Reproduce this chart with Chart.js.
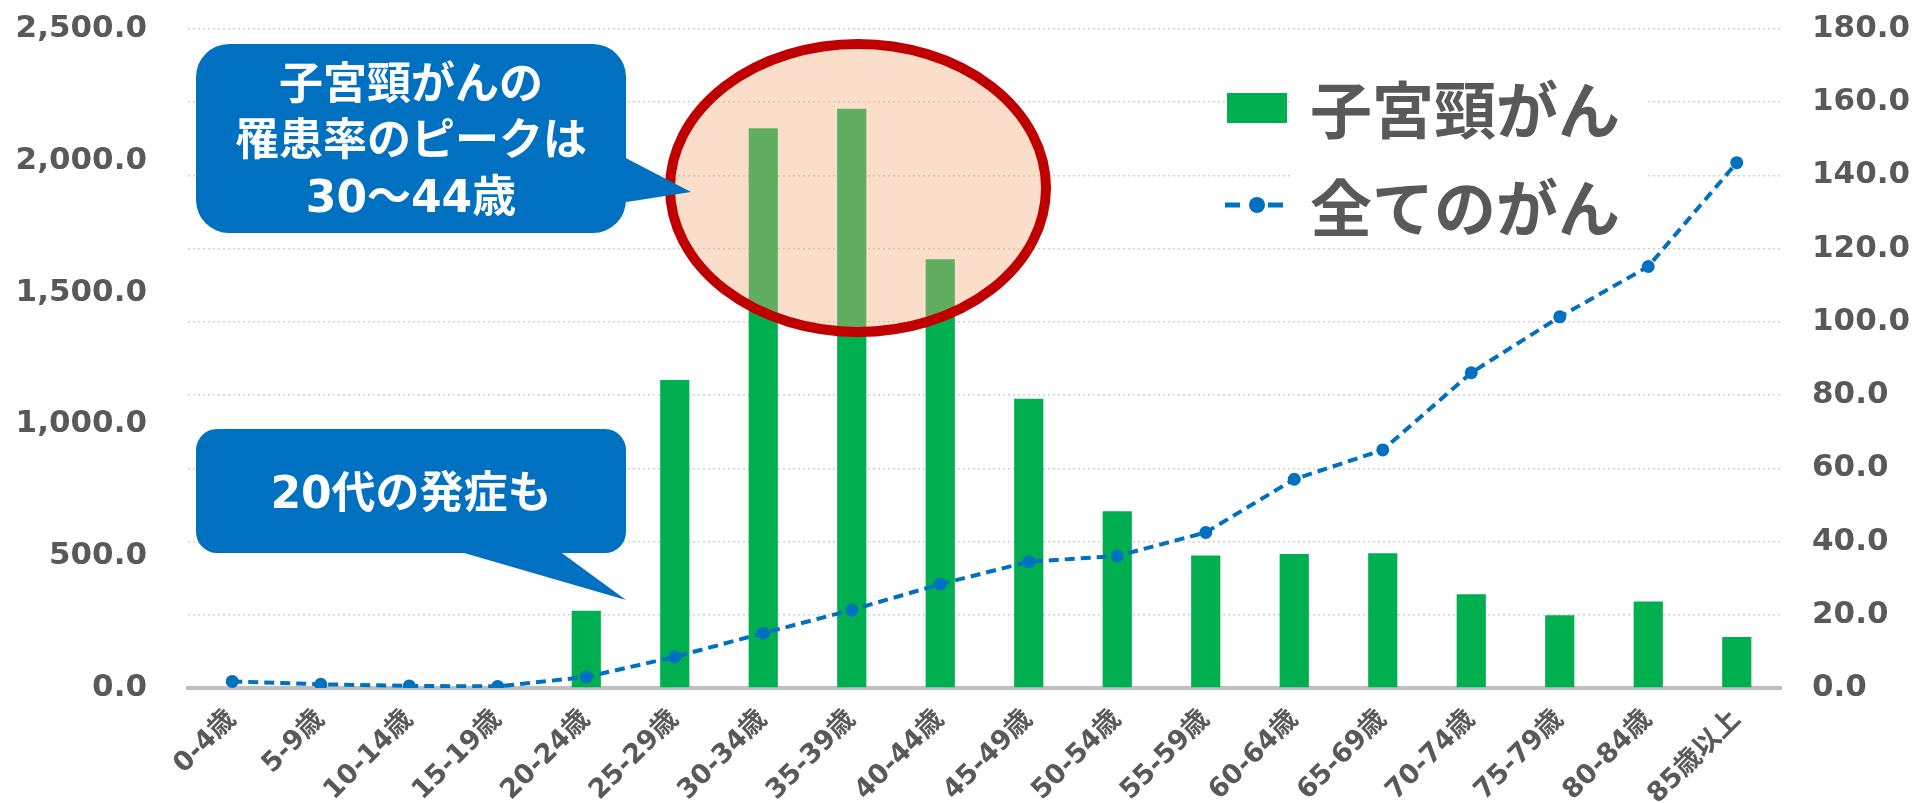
<!DOCTYPE html>
<html>
<head>
<meta charset="utf-8">
<script src="https://cdn.jsdelivr.net/npm/chart.js@4/dist/chart.umd.min.js"></script>
<style>
html,body{margin:0;padding:0;background:#fff;overflow:hidden}
#wrap{position:relative;width:1917px;height:803px}
</style>
</head>
<body>
<div id="wrap"><canvas id="c" width="1917" height="803"></canvas></div>
<script>
// ---- data ----
const categories = ['0-4歳','5-9歳','10-14歳','15-19歳','20-24歳','25-29歳','30-34歳','35-39歳','40-44歳','45-49歳','50-54歳','55-59歳','60-64歳','65-69歳','70-74歳','75-79歳','80-84歳','85歳以上'];
const cervicalRates = [0,0,0,0,21.1,84.1,152.9,158.2,117.1,79.0,48.3,36.2,36.6,36.8,25.6,19.9,23.6,13.9];
const allCancerRates = [25,14,8,6,42,118,208,296,394,479,501,590,792,903,1196,1408,1599,1993];
const leftTicks = [0,500,1000,1500,2000,2500];
const rightTicks = [0,20,40,60,80,100,120,140,160,180];
const seriesNames = ['子宮頸がん','全てのがん'];
const callout1Lines = ['子宮頸がんの','罹患率のピークは','30〜44歳'];
const callout2Lines = ['20代の発症も'];

const GRAY = '#595959';
const GREEN = '#00B050';
const BLUE = '#0070C0';
const NUMFONT = "'DejaVu Sans', 'Noto Sans CJK JP', sans-serif";
const JPFONT = "'DejaVu Sans', 'Noto Sans CJK JP', sans-serif";
const fmt = v => v.toLocaleString('en-US',{minimumFractionDigits:1,maximumFractionDigits:1});

const annotPlugin = {
  id:'annot',
  afterDraw(chart){
    const c = chart.ctx;
    c.save();
    // ellipse highlight
    c.beginPath();
    c.ellipse(858,188,188,144,0,0,Math.PI*2);
    c.fillStyle='rgba(242,172,122,0.40)';
    c.fill();
    c.lineWidth=10;
    c.strokeStyle='#C00000';
    c.stroke();

    // callout 1
    c.fillStyle=BLUE;
    c.beginPath(); c.roundRect(196,44,430,189,33); c.fill();
    c.beginPath(); c.moveTo(620,155); c.lineTo(691,192); c.lineTo(620,203); c.closePath(); c.fill();
    // callout 2
    c.beginPath(); c.roundRect(196,429,430,124,21); c.fill();
    c.beginPath(); c.moveTo(447,548); c.lineTo(626,600); c.lineTo(555,548); c.closePath(); c.fill();

    c.fillStyle='#fff';
    c.textAlign='center'; c.textBaseline='middle';
    c.font="bold 44px "+JPFONT;
    const ys=[88,144,201];
    callout1Lines.forEach((t,i)=>c.fillText(t,411,ys[i]));
    c.fillText(callout2Lines[0],411,497);

    // legend
    c.fillStyle='#fff';
    c.fillRect(1292,62,355,185);
    c.fillStyle=GREEN;
    c.fillRect(1227,93,60,30);
    c.strokeStyle=BLUE; c.lineWidth=5; c.setLineDash([]);
    c.beginPath(); c.moveTo(1225,205); c.lineTo(1240,205); c.moveTo(1268,205); c.lineTo(1283,205); c.stroke();
    c.fillStyle=BLUE;
    c.beginPath(); c.arc(1257,205,8,0,Math.PI*2); c.fill();
    c.fillStyle=GRAY;
    c.textAlign='left';
    c.font="bold 62px 'Noto Sans CJK JP', sans-serif";
    c.fillText(seriesNames[0],1310,110);
    c.fillText(seriesNames[1],1310,208);
    c.restore();
  }
};

function fixV(w){ return s => { s.width = w; s.paddingTop = 0; s.paddingBottom = 0; }; }

new Chart(document.getElementById('c'),{
  type:'bar',
  data:{
    labels:categories,
    datasets:[
      {type:'line',label:seriesNames[1],data:allCancerRates,yAxisID:'y',order:0,
       borderColor:BLUE,backgroundColor:BLUE,borderWidth:4,borderDash:[10,6],
       pointRadius:6.5,pointBorderWidth:0,pointBackgroundColor:BLUE,tension:0,fill:false},
      {type:'bar',label:seriesNames[0],data:cervicalRates,yAxisID:'y2',order:1,
       backgroundColor:GREEN,barPercentage:0.33,categoryPercentage:1}
    ]
  },
  options:{
    responsive:false,animation:false,devicePixelRatio:1,
    layout:{padding:{top:29,left:0,right:0,bottom:0}},
    plugins:{legend:{display:false},tooltip:{enabled:false}},
    scales:{
      x:{
        grid:{display:false,drawTicks:false},
        border:{display:true,color:'#BFBFBF',width:4},
        ticks:{color:GRAY,font:{family:NUMFONT,size:27,weight:'bold'},maxRotation:45,minRotation:45,autoSkip:false,padding:16},
        afterFit(s){s.height=115; s.paddingLeft=0; s.paddingRight=0;}
      },
      y:{
        position:'left',min:0,max:2500,
        grid:{display:false,drawTicks:false},
        border:{display:false},
        ticks:{color:GRAY,font:{family:NUMFONT,size:31,weight:'bold'},padding:41,callback:v=>fmt(v)},
        afterBuildTicks(s){s.ticks=leftTicks.map(v=>({value:v}));},
        afterFit:fixV(188)
      },
      y2:{
        position:'right',min:0,max:180,
        grid:{color:'#D0D0D0',lineWidth:1.5,drawTicks:false},
        border:{display:false,dash:[2,3]},
        ticks:{color:GRAY,font:{family:NUMFONT,size:31,weight:'bold'},padding:31,callback:v=>fmt(v)},
        afterBuildTicks(s){s.ticks=rightTicks.map(v=>({value:v}));},
        afterFit:fixV(136)
      }
    }
  },
  plugins:[annotPlugin]
});
</script>
</body>
</html>
